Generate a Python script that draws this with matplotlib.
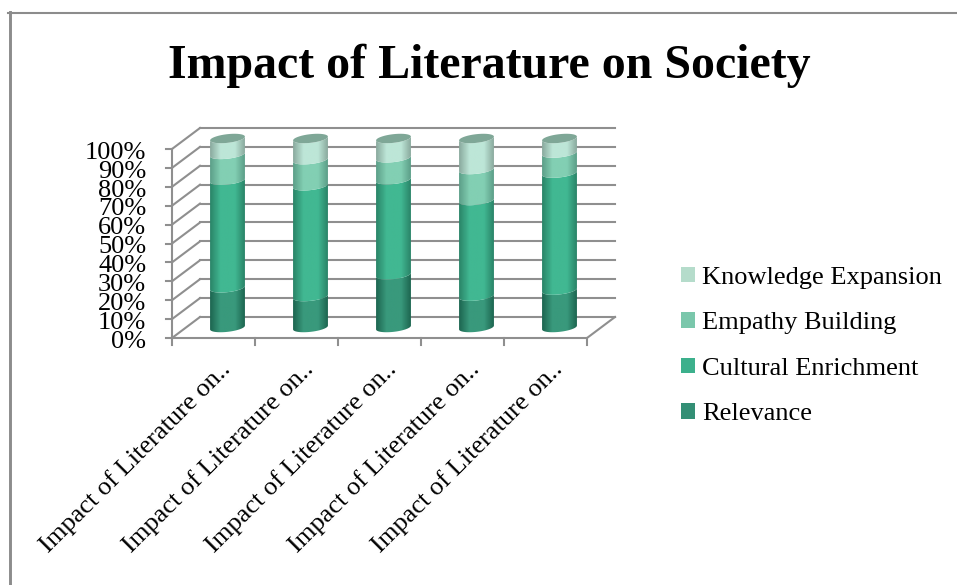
import matplotlib.pyplot as plt
from matplotlib.patches import Patch, PathPatch
from matplotlib.path import Path
from matplotlib.colors import LinearSegmentedColormap
import numpy as np

categories = ["Impact of Literature on.."] * 5
relevance = [21.0, 16.4, 27.9, 16.6, 19.8]
cultural = [56.9, 58.6, 50.3, 50.6, 61.9]
empathy = [13.7, 13.8, 11.6, 16.4, 10.6]
knowledge = [8.4, 11.2, 10.2, 16.4, 7.7]
series_names = ["Relevance", "Cultural Enrichment", "Empathy Building", "Knowledge Expansion"]
y_ticks = list(range(0, 101, 10))

legend_colors = ["#338f75", "#3cb08c", "#7ac7ab", "#b5dccb"]
# edge / centre colours of each cylinder section
shades = [("#1d6650", "#39997c"), ("#2a8468", "#41b892"), ("#5c9f88", "#82cfb3"), ("#8aaa9e", "#bde6d7")]
cap_color = "#7fa797"
grid_color = "#8f8f8f"
text_font = ["Liberation Serif", "DejaVu Serif"]

W, H = 957, 585
PX = 1.89  # pixels for one percent
# fake 3d depth, half offset of the floor
dx, dy = 14 / 83, 10.5 / PX
bar_w = 0.42
ell = 2.3
tilt = 1.0
pad = 15  # axes go past 0-100 so the cylinder ends are not clipped

fig = plt.figure(figsize=(W / 100, H / 100), dpi=100)
fig.patch.set_facecolor("white")
ax = fig.add_axes([186 / W, 1 - (327.5 + pad * PX) / H, 415 / W, (100 + 2 * pad) * PX / H])
ax.axis("off")

# outer chart border
fig.add_artist(plt.Line2D([9.7 / W, 9.7 / W], [0, 1 - 12 / H], color="#8c8c8c", lw=2.1))
fig.add_artist(plt.Line2D([8.2 / W, 1], [1 - 13 / H, 1 - 13 / H], color="#8c8c8c", lw=1.5))

n = len(categories)
for v in y_ticks:
    ax.plot([dx, n + dx], [v + dy, v + dy], color=grid_color, lw=1.5, clip_on=False, zorder=1)
    ax.plot([-dx, dx], [v - dy, v + dy], color=grid_color, lw=1.5, clip_on=False, zorder=1)
    ax.plot([-dx - 0.07, -dx], [v - dy, v - dy], color=grid_color, lw=1.5, clip_on=False, zorder=1)
    ax.text(-dx - 0.31, v - dy - 2, f"{v}%", ha="right", va="center", fontsize=19,
            family=text_font, clip_on=False)

# floor
ax.plot([-dx, n - dx, n + dx], [-dy, -dy, dy], color=grid_color, lw=1.5, clip_on=False, zorder=1)
ax.plot([-dx, -dx], [-dy, 100 - dy], color=grid_color, lw=1.5, clip_on=False, zorder=1)
for i in range(n + 1):
    ax.plot([i - dx, i - dx], [-dy, -dy - 3.5], color=grid_color, lw=1.5, clip_on=False, zorder=1)
for i, label in enumerate(categories):
    ax.text(i + 0.5 - dx + 0.07, -dy - 10.5, label, rotation=45, rotation_mode="anchor",
            ha="right", va="top", fontsize=19, family=text_font, clip_on=False)

theta = np.linspace(0, np.pi, 40)


def section_path(cx, low, high):
    # side of a cylinder between two heights, with curved front edges
    xs = cx + bar_w / 2 * np.cos(theta)
    top = high + tilt * np.cos(theta) - ell * np.sin(theta)
    bot = low + tilt * np.cos(theta) - ell * np.sin(theta)
    verts = np.vstack([np.column_stack([xs, top]), np.column_stack([xs, bot])[::-1]])
    return Path(np.vstack([verts, verts[0]]), closed=True)


stack = np.array([relevance, cultural, empathy, knowledge])
for i in range(n):
    cx = i + 0.5
    base = 0
    for j, vals in enumerate(stack):
        value = vals[i]
        edge, centre = shades[j]
        cmap = LinearSegmentedColormap.from_list("cyl", [(0, edge), (0.3, centre), (0.72, centre), (1, edge)])
        grad = np.linspace(0, 1, 64).reshape(1, -1)
        img = ax.imshow(grad, cmap=cmap, aspect="auto", zorder=3 + j * 0.1,
                        extent=(cx - bar_w / 2, cx + bar_w / 2, base - 5, base + value + 5))
        clip = PathPatch(section_path(cx, base, base + value), transform=ax.transData,
                         facecolor="none", edgecolor="none")
        ax.add_patch(clip)
        img.set_clip_path(clip)
        base += value
    # top cap
    capx = cx + bar_w / 2 * np.cos(2 * theta)
    capy = base + tilt * np.cos(2 * theta) + ell * np.sin(2 * theta)
    ax.fill(capx, capy, color=cap_color, zorder=4, clip_on=False, lw=0)

ax.set_xlim(0, n)
ax.set_ylim(-pad, 100 + pad)

handles = [Patch(facecolor=c, edgecolor="none", label=s) for c, s in zip(legend_colors, series_names)][::-1]
fig.legend(handles=handles, loc="center left", bbox_to_anchor=(681 / W, 1 - 346 / H), frameon=False,
           prop={"family": text_font, "size": 19}, handlelength=0.53, handleheight=0.53,
           handletextpad=0.27, labelspacing=0.88, borderpad=0, borderaxespad=0)

fig.text(489 / W, 1 - 66 / H, "Impact of Literature on Society", ha="center", va="center",
         fontsize=34.5, fontweight="bold", family=text_font)

fig.savefig("out.png", dpi=100)
